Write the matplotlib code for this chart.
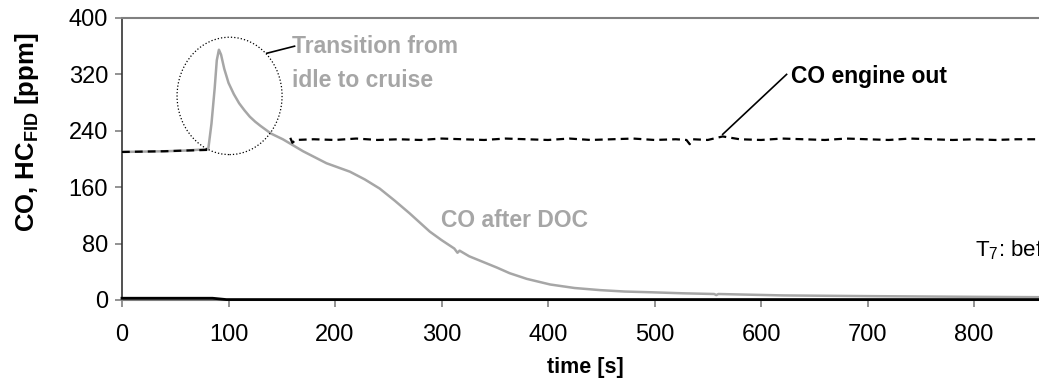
import matplotlib
matplotlib.use("Agg")
from matplotlib import pyplot as plt
from matplotlib.patches import Ellipse

plt.rcParams['font.family'] = ['Liberation Sans', 'DejaVu Sans']
plt.rcParams['mathtext.fontset'] = 'custom'
plt.rcParams['mathtext.rm'] = 'Liberation Sans'
plt.rcParams['mathtext.bf'] = 'Liberation Sans:bold'

# CO engine out (dashed), idle part and cruise part
t_eo_idle = [0, 20, 40, 60, 83]
co_eo_idle = [210, 210.5, 211, 212, 213]
t_eo_cruise = [158, 160, 163, 180, 200, 220, 240, 260, 280, 300, 320, 340, 360, 380,
               400, 420, 440, 460, 480, 500, 520, 530, 533, 536, 550, 564, 580, 600,
               620, 640, 660, 680, 700, 720, 740, 760, 780, 800, 820, 840, 861]
co_eo_cruise = [230, 223, 227, 228, 227, 229, 227, 228, 227, 229, 228, 227, 229, 228,
                227, 229, 227, 228, 229, 227, 228, 227, 221, 228, 227, 232, 228, 227,
                229, 228, 227, 229, 228, 227, 229, 228, 227, 228, 227, 228, 228]

# CO after DOC (grey)
t_doc = [0, 20, 40, 60, 81, 84, 87, 89, 91, 93, 96, 100, 105, 110, 115, 120, 125, 130,
         140, 151, 160, 170, 192, 214, 228, 242, 256, 270, 289, 300, 312, 315, 317,
         326, 339, 352, 364, 380, 402, 425, 449, 472, 496, 527, 556, 558, 560, 590,
         621, 660, 700, 750, 800, 861]
co_doc = [210, 210.5, 211, 212, 214, 250, 300, 340, 355, 348, 328, 308, 292, 279, 269,
          260, 253, 247, 236, 228, 220, 211, 194, 182, 171, 158, 141, 123, 97, 85, 73,
          67, 70, 62, 54, 46, 38, 30, 22, 17, 14, 12, 11, 9.5, 8.5, 7, 8.5, 7.5, 6.5,
          6, 5.5, 5, 4.5, 4]

# HC FID (black solid)
t_hc = [0, 85, 98, 861]
hc = [2.5, 2.5, 0.6, 0.6]

xticks = [0, 100, 200, 300, 400, 500, 600, 700, 800]
yticks = [0, 80, 160, 240, 320, 400]

fig = plt.figure(figsize=(10.39, 3.81), dpi=100)
ax = fig.add_axes([122/1039, 81/381, 917/1039, 282/381])

ax.plot(t_doc, co_doc, color='#a6a6a6', lw=1.8, zorder=3)
ax.plot(t_eo_idle, co_eo_idle, color='black', lw=1.6, dashes=(3.5, 2.3), zorder=4)
ax.plot(t_eo_cruise, co_eo_cruise, color='black', lw=1.6, dashes=(3.5, 2.3), zorder=4)
ax.plot(t_hc, hc, color='black', lw=2.0, zorder=5, clip_on=False)

ax.set_xlim(0, 861)
ax.set_ylim(0, 400)
ax.set_xticks(xticks)
ax.set_yticks(yticks)
ax.tick_params(axis='both', colors='#808080', length=5, width=1.2, labelsize=17,
               labelcolor='black')
ax.tick_params(axis='x', pad=12)
ax.tick_params(axis='y', pad=5)

for s in ['top', 'bottom']:
    ax.spines[s].set_color('#808080')
    ax.spines[s].set_linewidth(1.5)
ax.spines['left'].set_color('#333333')
ax.spines['left'].set_linewidth(1.2)
ax.spines['right'].set_visible(False)

# axis titles
ax.text(-0.104, 0.595, r'CO, HC$_{\mathbf{FID}}$ [ppm]', transform=ax.transAxes,
        rotation=90, ha='center', va='center', fontsize=18.5, fontweight='bold')
ax.text(0.505, -0.259, 'time [s]', transform=ax.transAxes, ha='center',
        va='baseline', fontsize=15.5, fontweight='bold')

# transition ellipse and labels
ax.add_patch(Ellipse((101, 289.5), 98.6, 166.5, fill=False, ls=':', lw=0.9,
                     color='black', zorder=6))
ax.plot([136, 162], [350, 360], color='black', lw=1.2, zorder=6)
ax.text(160, 350, 'Transition from', color='#a6a6a6', fontsize=16.5,
        fontweight='bold', va='baseline')
ax.text(160, 302, 'idle to cruise', color='#a6a6a6', fontsize=16.5,
        fontweight='bold', va='baseline')

ax.plot([564, 624], [235, 320], color='black', lw=1.2, zorder=6)
ax.text(628, 308, 'CO engine out', color='black', fontsize=16.5,
        fontweight='bold', va='baseline')

ax.text(299.5, 104, 'CO after DOC', color='#a6a6a6', fontsize=16.5,
        fontweight='bold', va='baseline')

ax.text(801, 61.5, r'T$_7$: before DOC', color='black', fontsize=16,
        va='baseline', clip_on=False)

plt.savefig("out.png", dpi=100)
